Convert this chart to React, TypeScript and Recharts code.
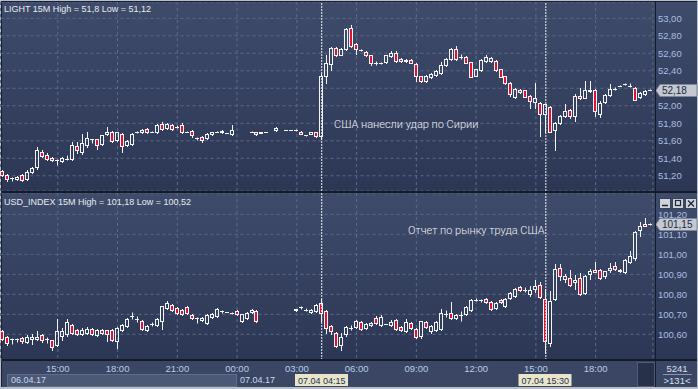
import { ComposedChart, Bar, XAxis, YAxis, CartesianGrid, ReferenceLine } from "recharts";

// 15-minute slots, 06.04 12:15 ... 07.04 20:45
const slotKeys: string[] = [];
for (let i = 0; i < 131; i++) {
    const t = 12 * 60 + 15 + i * 15;
    const day = t >= 1440 ? "07" : "06";
    const m = t % 1440;
    slotKeys.push(day + " " + String(Math.floor(m / 60)).padStart(2, "0") + ":" + String(m % 60).padStart(2, "0"));
}

const hourTicks = ["06 15:00", "06 18:00", "06 21:00", "07 00:00", "07 03:00", "07 06:00", "07 09:00", "07 12:00", "07 15:00", "07 18:00"];
const eventSlots = ["07 04:15", "07 15:30"];

const lightTicks = [51.2, 51.4, 51.6, 51.8, 52.0, 52.2, 52.4, 52.6, 52.8, 53.0];
const usdTicks = [100.6, 100.7, 100.8, 100.9, 101.0, 101.1, 101.2];
const lightLast = 52.18;
const usdLast = 101.15;

const lightOpen = [
    51.25, 51.20, 51.17, 51.16, 51.20, 51.16, 51.24, 51.29, 51.47, 51.43,
    51.40, 51.37, 51.36, 51.39, 51.39, 51.54, 51.47, 51.55, 51.61, 51.61,
    51.56, 51.67, 51.70, 51.60, 51.675, 51.55, 51.56, 51.69, 51.69, 51.73,
    51.70, 51.69, 51.79, 51.74, 51.78, 51.755, 51.77, 51.70, 51.71, 51.63,
    51.64, 51.63, 51.67, 51.70, 51.71, 51.68, 51.67, null, null, null,
    51.70, 51.69, 51.68, 51.70, null, 51.715, null, 51.72, 51.715, 51.72,
    51.70, 51.655, 51.675, 51.69, 51.65, 52.34, 52.47, 52.66, 52.58, 52.64,
    52.885, 52.70, 52.63, 52.61, 52.57, 52.485, 52.485, 52.49, 52.56, 52.60,
    52.53, 52.505, 52.52, 52.475, 52.33, 52.28, 52.32, 52.35, 52.37, 52.46,
    52.53, 52.645, 52.555, 52.555, 52.49, 52.34, 52.40, 52.51, 52.505, 52.505,
    52.41, 52.33, 52.26, 52.10, 52.18, 52.17, 52.105, 52.035, 52.03, 51.895,
    51.98, 51.715, 51.80, 51.88, 51.945, 51.875, 52.11, 52.085, 52.18, 52.18,
    51.895, 52.04, 52.12, 52.19, 52.225, 52.24, 52.225, 52.20, 52.09, 52.13,
    52.18
];
const lightHigh = [
    51.26, 51.21, 51.18, 51.19, 51.21, 51.26, 51.29, 51.52, 51.49, 51.45,
    51.41, 51.39, 51.41, 51.43, 51.58, 51.58, 51.67, 51.70, 51.62, 51.62,
    51.66, 51.75, 51.71, 51.70, 51.68, 51.60, 51.68, 51.71, 51.73, 51.74,
    51.71, 51.79, 51.81, 51.80, 51.79, 51.77, 51.80, 51.71, 51.72, 51.64,
    51.65, 51.68, 51.70, 51.71, 51.72, 51.68, 51.77, null, null, null,
    51.71, 51.69, 51.69, 51.70, null, 51.75, null, 51.72, 51.715, 51.73,
    51.705, 51.66, 51.70, 51.70, 52.36, 52.57, 52.67, 52.67, 52.66, 52.88,
    52.92, 52.71, 52.64, 52.62, 52.58, 52.51, 52.50, 52.58, 52.62, 52.62,
    52.54, 52.53, 52.53, 52.48, 52.34, 52.35, 52.37, 52.40, 52.49, 52.54,
    52.65, 52.675, 52.59, 52.56, 52.50, 52.42, 52.53, 52.57, 52.55, 52.52,
    52.42, 52.34, 52.27, 52.20, 52.19, 52.18, 52.12, 52.26, 52.04, 52.02,
    51.99, 51.81, 51.89, 52.01, 51.96, 52.13, 52.20, 52.275, 52.275, 52.19,
    52.05, 52.13, 52.24, 52.21, 52.23, 52.25, 52.25, 52.21, 52.15, 52.17,
    52.19
];
const lightLow = [
    51.19, 51.14, 51.14, 51.15, 51.14, 51.15, 51.23, 51.27, 51.41, 51.38,
    51.36, 51.32, 51.35, 51.37, 51.37, 51.46, 51.44, 51.52, 51.57, 51.50,
    51.55, 51.66, 51.58, 51.59, 51.47, 51.53, 51.55, 51.68, 51.68, 51.68,
    51.69, 51.68, 51.72, 51.73, 51.72, 51.74, 51.68, 51.69, 51.64, 51.60,
    51.58, 51.62, 51.66, 51.69, 51.68, 51.68, 51.665, null, null, null,
    51.69, 51.66, 51.68, 51.70, null, 51.71, null, 51.72, 51.715, 51.71,
    51.67, 51.65, 51.67, 51.64, 51.62, 52.26, 52.40, 52.56, 52.57, 52.63,
    52.67, 52.59, 52.62, 52.56, 52.455, 52.46, 52.47, 52.48, 52.55, 52.50,
    52.50, 52.50, 52.48, 52.275, 52.27, 52.27, 52.31, 52.34, 52.36, 52.45,
    52.52, 52.52, 52.53, 52.48, 52.32, 52.33, 52.39, 52.50, 52.50, 52.39,
    52.32, 52.24, 52.11, 52.08, 52.14, 52.09, 51.97, 51.97, 51.65, 51.70,
    51.69, 51.49, 51.79, 51.87, 51.86, 51.82, 52.07, 52.08, 52.15, 51.875,
    51.87, 52.03, 52.11, 52.18, 52.22, 52.23, 52.21, 52.06, 52.08, 52.12,
    52.17
];
const lightClose = [
    51.20, 51.16, 51.17, 51.18, 51.15, 51.24, 51.28, 51.49, 51.42, 51.39,
    51.37, 51.37, 51.40, 51.39, 51.55, 51.49, 51.57, 51.63, 51.61, 51.55,
    51.655, 51.69, 51.59, 51.69, 51.53, 51.59, 51.675, 51.69, 51.72, 51.69,
    51.70, 51.78, 51.73, 51.79, 51.73, 51.755, 51.69, 51.70, 51.655, 51.63,
    51.60, 51.675, 51.69, 51.70, 51.69, 51.68, 51.72, null, null, null,
    51.70, 51.67, 51.69, 51.70, null, 51.74, null, 51.72, 51.715, 51.72,
    51.675, 51.655, 51.70, 51.65, 52.33, 52.485, 52.66, 52.58, 52.645, 52.875,
    52.675, 52.64, 52.63, 52.57, 52.485, 52.485, 52.485, 52.57, 52.60, 52.505,
    52.505, 52.52, 52.485, 52.33, 52.28, 52.34, 52.36, 52.39, 52.455, 52.53,
    52.64, 52.53, 52.555, 52.485, 52.325, 52.41, 52.52, 52.555, 52.54, 52.40,
    52.325, 52.25, 52.125, 52.19, 52.15, 52.10, 52.05, 52.085, 51.895, 52.01,
    51.70, 51.80, 51.875, 51.93, 51.875, 52.11, 52.085, 52.18, 52.16, 51.93,
    52.03, 52.12, 52.19, 52.19, 52.225, 52.24, 52.225, 52.065, 52.14, 52.16,
    52.18
];

const usdOpen = [
    100.613, 100.585, 100.572, 100.572, 100.58, 100.558, 100.575, 100.575, 100.596, 100.575,
    100.567, 100.546, 100.588, 100.597, 100.645, 100.62, 100.60, 100.605, 100.625, 100.595,
    100.62, 100.618, 100.618, 100.563, 100.62, 100.638, 100.688, 100.675, 100.663, 100.62,
    100.65, 100.645, 100.663, 100.73, 100.745, 100.73, 100.72, 100.735, 100.695, 100.678,
    100.67, 100.655, 100.685, 100.69, 100.713, 100.71, 100.705, 100.713, 100.663, 100.68,
    100.71, 100.716, null, null, null, null, null, null, null, 100.718,
    100.735, 100.72, 100.71, 100.715, 100.755, 100.713, 100.64, 100.605, 100.546, 100.597,
    100.63, 100.633, 100.658, 100.63, 100.645, 100.68, 100.645, 100.65, 100.645, 100.668,
    100.635, 100.613, 100.655, 100.625, 100.588, 100.658, 100.613, 100.62, 100.625, 100.70,
    100.705, 100.68, 100.695, 100.70, 100.72, 100.77, 100.77, 100.775, 100.758, 100.73,
    100.77, 100.738, 100.78, 100.788, 100.835, 100.818, 100.797, 100.825, 100.846, 100.775,
    100.552, 100.775, 100.93, 100.875, 100.88, 100.86, 100.88, 100.805, 100.90, 100.92,
    100.92, 100.888, 100.918, 100.938, 100.913, 100.908, 100.96, 100.977, 101.118, 101.15,
    101.15
];
const usdHigh = [
    100.62, 100.59, 100.578, 100.58, 100.585, 100.595, 100.60, 100.613, 100.60, 100.585,
    100.57, 100.675, 100.63, 100.675, 100.65, 100.625, 100.628, 100.635, 100.63, 100.625,
    100.625, 100.62, 100.625, 100.635, 100.65, 100.68, 100.708, 100.69, 100.67, 100.645,
    100.66, 100.68, 100.74, 100.765, 100.75, 100.735, 100.725, 100.74, 100.70, 100.685,
    100.685, 100.70, 100.705, 100.73, 100.72, 100.71, 100.71, 100.72, 100.70, 100.71,
    100.725, 100.72, null, null, null, null, null, null, null, 100.725,
    100.74, 100.728, 100.725, 100.75, 100.775, 100.72, 100.645, 100.61, 100.605, 100.64,
    100.645, 100.67, 100.665, 100.655, 100.66, 100.69, 100.695, 100.65, 100.668, 100.675,
    100.64, 100.675, 100.66, 100.63, 100.665, 100.665, 100.645, 100.665, 100.725, 100.718,
    100.758, 100.70, 100.713, 100.74, 100.775, 100.78, 100.775, 100.78, 100.765, 100.76,
    100.775, 100.78, 100.81, 100.83, 100.84, 100.835, 100.84, 100.87, 100.858, 100.825,
    100.813, 100.95, 100.95, 100.90, 100.92, 100.895, 100.905, 100.895, 100.925, 100.96,
    100.925, 100.915, 100.955, 100.96, 100.925, 100.975, 101.015, 101.115, 101.158, 101.18,
    101.155
];
const usdLow = [
    100.57, 100.543, 100.55, 100.56, 100.555, 100.555, 100.55, 100.57, 100.56, 100.555,
    100.52, 100.54, 100.57, 100.59, 100.60, 100.595, 100.595, 100.60, 100.595, 100.59,
    100.60, 100.563, 100.565, 100.53, 100.615, 100.635, 100.672, 100.66, 100.62, 100.615,
    100.64, 100.64, 100.625, 100.725, 100.715, 100.70, 100.695, 100.70, 100.675, 100.655,
    100.665, 100.65, 100.68, 100.685, 100.705, 100.71, 100.70, 100.695, 100.66, 100.675,
    100.705, 100.66, null, null, null, null, null, null, null, 100.715,
    100.725, 100.715, 100.705, 100.71, 100.663, 100.605, 100.60, 100.535, 100.52, 100.59,
    100.62, 100.63, 100.62, 100.625, 100.64, 100.65, 100.64, 100.65, 100.64, 100.62,
    100.615, 100.61, 100.625, 100.58, 100.58, 100.63, 100.605, 100.615, 100.62, 100.685,
    100.675, 100.675, 100.663, 100.695, 100.715, 100.765, 100.76, 100.755, 100.72, 100.725,
    100.755, 100.735, 100.775, 100.785, 100.815, 100.81, 100.79, 100.81, 100.78, 100.505,
    100.541, 100.77, 100.87, 100.86, 100.84, 100.825, 100.795, 100.80, 100.875, 100.91,
    100.875, 100.88, 100.91, 100.92, 100.91, 100.905, 100.955, 100.97, 101.088, 101.14,
    101.145
];
const usdClose = [
    100.575, 100.555, 100.572, 100.572, 100.563, 100.585, 100.585, 100.585, 100.567, 100.575,
    100.533, 100.613, 100.613, 100.658, 100.605, 100.60, 100.62, 100.625, 100.60, 100.62,
    100.605, 100.60, 100.57, 100.63, 100.645, 100.675, 100.688, 100.675, 100.625, 100.64,
    100.65, 100.675, 100.738, 100.755, 100.72, 100.705, 100.70, 100.705, 100.68, 100.678,
    100.68, 100.695, 100.70, 100.725, 100.713, 100.71, 100.705, 100.697, 100.697, 100.705,
    100.72, 100.663, null, null, null, null, null, null, null, 100.722,
    100.735, 100.72, 100.72, 100.745, 100.705, 100.63, 100.613, 100.538, 100.585, 100.635,
    100.63, 100.663, 100.625, 100.65, 100.655, 100.655, 100.685, 100.65, 100.66, 100.625,
    100.62, 100.658, 100.63, 100.585, 100.663, 100.635, 100.64, 100.658, 100.705, 100.70,
    100.68, 100.695, 100.695, 100.735, 100.768, 100.77, 100.77, 100.758, 100.725, 100.755,
    100.758, 100.775, 100.805, 100.825, 100.82, 100.818, 100.818, 100.838, 100.783, 100.563,
    100.766, 100.922, 100.89, 100.89, 100.846, 100.87, 100.797, 100.89, 100.915, 100.91,
    100.88, 100.913, 100.93, 100.922, 100.92, 100.968, 100.99, 101.11, 101.141, 101.14,
    101.15
];

const lightRows = slotKeys.map((t, i) => ({ t, o: lightOpen[i], h: lightHigh[i], l: lightLow[i], c: lightClose[i] }));
const usdRows = slotKeys.map((t, i) => ({ t, o: usdOpen[i], h: usdHigh[i], l: usdLow[i], c: usdClose[i] }));

const FONT = "'Liberation Sans', Arial, sans-serif";
const GRID = "#5d6a88";
const WICK = "#f2f4f8";
const DOWN = "#e5102e";

const fmt = (v: number) => v.toFixed(2).replace(".", ",");
const snap = (v: number) => Math.floor(v) + 0.5;

function Candle(props: any) {
    const { x, y, width, height, payload } = props;
    if (!payload || payload.o == null || !isFinite(y) || !isFinite(height)) return <g />;
    const { o, h, l, c } = payload;
    const top = Math.min(y, y + height);
    const bot = Math.max(y, y + height);
    const py = (v: number) => (h > l ? top + ((h - v) / (h - l)) * (bot - top) : top);
    const cx = Math.round(x + width / 2 - 0.5) + 0.5;
    const yH = snap(top);
    const yL = snap(bot);
    const yO = snap(py(o));
    const yC = snap(py(c));
    const bt = Math.min(yO, yC);
    const bb = Math.max(yO, yC);
    if (bb - bt < 1) {
        return (
            <g>
                <line x1={cx} x2={cx} y1={yH} y2={Math.max(yL, yH + 0.01)} stroke={WICK} />
                <line x1={cx - 2.5} x2={cx + 1.5} y1={bt} y2={bt} stroke={c < o ? DOWN : WICK} />
            </g>
        );
    }
    return (
        <g>
            {yH < bt && <line x1={cx} x2={cx} y1={yH - 0.5} y2={bt} stroke={WICK} />}
            {yL > bb && <line x1={cx} x2={cx} y1={bb} y2={yL + 0.5} stroke={WICK} />}
            <rect x={cx - 2} y={bt} width={3} height={bb - bt} fill={c < o ? DOWN : "none"} stroke={WICK} />
        </g>
    );
}

function PriceTag(props: any) {
    const { viewBox, text } = props;
    if (!viewBox) return null;
    const y = Math.round(viewBox.y) + 0.5;
    const tip = viewBox.x + viewBox.width + 3;
    return (
        <g>
            <path d={`M${tip},${y} L${tip + 4},${y - 6} H697 V${y + 6} H${tip + 4} Z`} fill="#c4c9d1" stroke="#7e8799" />
            <text x={tip + 6} y={y + 3.5} fontSize={10} fontFamily={FONT} fill="#1c2846">{text}</text>
        </g>
    );
}

// price label on the right axis; the one hidden under the last-price tag is left out
function AxisTick(props: any) {
    const { x, y, payload, covered } = props;
    if (covered && Math.abs(payload.value - covered) < 1e-6) return <g />;
    return (
        <text x={x} y={y} dy="0.35em" fontSize={9.5} fontFamily={FONT} fill="#a9bde0">
            {fmt(payload.value)}
        </text>
    );
}

function Panel({ rows, domain, ticks, last, covered, height, showTime }: any) {
    return (
        <ComposedChart
            width={698}
            height={height}
            data={rows}
            margin={{ top: 0, right: 0, bottom: 0, left: 0.5 }}
        >
            <CartesianGrid stroke={GRID} strokeDasharray="3 3" />
            <XAxis
                dataKey="t"
                ticks={hourTicks}
                interval={0}
                hide={!showTime}
                height={14}
                tickFormatter={(t: string) => t.slice(3)}
                axisLine={false}
                tickLine={false}
                tickSize={0}
                tickMargin={5.5}
                tick={{ fill: "#b9cbe8", fontSize: 9.5, fontFamily: FONT }}
            />
            <YAxis
                orientation="right"
                width={45.1}
                domain={domain}
                ticks={ticks}
                interval={0}
                allowDataOverflow
                axisLine={false}
                tickLine={false}
                tickSize={0}
                tickMargin={5}
                tick={(p: any) => <AxisTick {...p} covered={covered} />}
            />
            {eventSlots.map((s) => (
                <ReferenceLine key={s} x={s} stroke="#eef1f6" strokeDasharray="2 1" />
            ))}
            <Bar
                dataKey={(d: any) => (d.o == null ? null : [d.l, d.h])}
                shape={(p: any) => <Candle {...p} />}
                isAnimationActive={false}
            />
            <ReferenceLine y={last} stroke="none" label={<PriceTag text={fmt(last)} />} />
        </ComposedChart>
    );
}

const txt = { fontFamily: FONT, fontSize: 9 };
const noteFont = "Roboto, 'Liberation Sans', sans-serif";

export default function App() {
    return (
        <div style={{ position: "absolute", left: 0, top: 0, width: 698, height: 389, overflow: "hidden" }}>
            <svg width={698} height={389} style={{ position: "absolute", left: 0, top: 0 }}>
                <defs>
                    <linearGradient id="pg" x1="0" y1="0" x2="0" y2="1">
                        <stop offset="0" stopColor="#3f4b6a" />
                        <stop offset="1" stopColor="#2c3756" />
                    </linearGradient>
                </defs>
                <rect x={0} y={0} width={698} height={389} fill="#b7bfcb" />
                <rect x={1} y={1} width={696} height={386} fill="#1a2030" />
                <rect x={2} y={2} width={695} height={189} fill="url(#pg)" />
                <rect x={2} y={193} width={695} height={167} fill="url(#pg)" />
                <rect x={2} y={361} width={695} height={26} fill="#3a4664" />
                <rect x={7.5} y={374.5} width={229} height={12} fill="#4b5876" stroke="#5f6c8b" />
            </svg>

            <div style={{ position: "absolute", left: 0, top: 2 }}>
                <Panel rows={lightRows} domain={[51.026, 53.186]} ticks={lightTicks} last={lightLast} covered={52.2} height={189} showTime={false} />
            </div>
            <div style={{ position: "absolute", left: 0, top: 193 }}>
                <Panel rows={usdRows} domain={[100.4715, 101.3065]} ticks={usdTicks} last={usdLast} covered={null} height={181} showTime />
            </div>

            <svg width={698} height={389} style={{ position: "absolute", left: 0, top: 0, pointerEvents: "none" }}>
                <line x1={655.5} x2={655.5} y1={2} y2={387} stroke="#151b2a" />
                <rect x={2} y={191} width={695} height={2} fill="#141a28" />
                <rect x={2} y={359} width={695} height={2} fill="#141a28" />

                <text x={4} y={12} {...txt} fill="#e6eaf2">LIGHT 15M High = 51,8 Low = 51,12</text>
                <text x={4} y={205} {...txt} fill="#e6eaf2">USD_INDEX 15M High = 101,18 Low = 100,52</text>

                <text x={334} y={127.5} fontFamily={noteFont} fontWeight={300} fontSize={11} fill="#f0f2f6">США нанесли удар по Сирии</text>
                <text x={408} y={233.5} fontFamily={noteFont} fontWeight={300} fontSize={11} fill="#f0f2f6">Отчет по рынку труда США</text>

                <text x={11} y={383} {...txt} fill="#c9d6ee">06.04.17</text>
                <text x={240} y={383} {...txt} fill="#c9d6ee">07.04.17</text>
                <rect x={295} y={374} width={53} height={12} fill="#e8e5ca" />
                <text x={298} y={383.5} {...txt} fill="#26304a">07.04 04:15</text>
                <rect x={518.5} y={374} width={53} height={12} fill="#e8e5ca" />
                <text x={521.5} y={383.5} {...txt} fill="#26304a">07.04 15:30</text>

                <rect x={637.5} y={362.5} width={17} height={24} fill="#28314a" stroke="#4e5a78" />
                <text x={677} y={371.5} {...txt} fontSize={9.5} textAnchor="middle" fill="#d8e0ee">5241</text>
                <line x1={663} x2={692} y1={374.5} y2={374.5} stroke="#8a96b0" />
                <text x={677} y={384} {...txt} fontSize={9.5} textAnchor="middle" fill="#d8e0ee">&gt;131&lt;</text>

                <rect x={659.5} y={198.5} width={11} height={10} fill="#cfd3da" stroke="#3a4256" />
                <line x1={662} x2={668} y1={205.5} y2={205.5} stroke="#1e2638" strokeWidth={1.5} />
                <rect x={672.5} y={198.5} width={11} height={10} fill="#cfd3da" stroke="#3a4256" />
                <rect x={675.5} y={200.5} width={5} height={5} fill="none" stroke="#1e2638" strokeWidth={1.2} />
                <rect x={685.5} y={198.5} width={11} height={10} fill="#cfd3da" stroke="#3a4256" />
                <line x1={688} x2={694} y1={200.5} y2={206.5} stroke="#1e2638" strokeWidth={1.2} />
                <line x1={694} x2={688} y1={200.5} y2={206.5} stroke="#1e2638" strokeWidth={1.2} />
            </svg>
        </div>
    );
}
